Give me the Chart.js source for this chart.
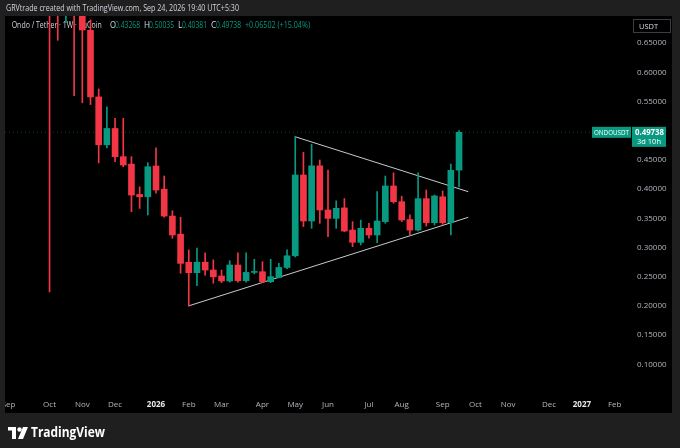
<!DOCTYPE html>
<html><head><meta charset="utf-8">
<script src="https://cdn.jsdelivr.net/npm/chart.js@4.4.1/dist/chart.umd.min.js"></script>
<style>html,body{margin:0;padding:0;background:#1f1f1f;}canvas{display:block;}</style>
</head><body>
<canvas id="c" width="680" height="448"></canvas>
<script>
// ---- data (weekly candles, week index 0 = first week of Jan 2026) ----
const weeks  = [-13,-12,-11,-10,-9,-8,-7,-6,-5,-4,-3,-2,-1,0,1,2,3,4,5,6,7,8,9,10,11,12,13,14,15,16,17,18,19,20,21,22,23,24,25,26,27,28,29,30,31,32,33,34,35,36,37];
const opens  = [0.90,0.85,0.74,0.80,0.72,0.672,0.558,0.476,0.504,0.4557,0.443,0.391,0.387,0.4397,0.40,0.354,0.323,0.2748,0.257,0.275,0.2616,0.2514,0.2428,0.2702,0.2433,0.2575,0.2587,0.2416,0.249,0.266,0.286,0.4243,0.3455,0.440,0.3644,0.350,0.368,0.330,0.309,0.333,0.3216,0.3445,0.4055,0.3786,0.348,0.330,0.3838,0.3427,0.387,0.3427,0.43268];
const highs  = [0.95,0.90,0.88,0.86,0.75,0.69,0.5716,0.541,0.5214,0.5214,0.4557,0.404,0.4454,0.471,0.4226,0.363,0.352,0.296,0.299,0.291,0.279,0.2616,0.2776,0.291,0.291,0.28,0.276,0.28,0.273,0.296,0.49,0.463,0.477,0.450,0.4329,0.380,0.384,0.3445,0.347,0.3416,0.396,0.4226,0.428,0.388,0.356,0.428,0.3986,0.390,0.397,0.443,0.50035];
const lows   = [0.224,0.655,0.685,0.56,0.548,0.545,0.445,0.4705,0.447,0.4385,0.3615,0.367,0.3558,0.393,0.352,0.316,0.256,0.200,0.235,0.253,0.239,0.240,0.241,0.241,0.241,0.255,0.240,0.24,0.248,0.264,0.284,0.336,0.333,0.3416,0.3187,0.333,0.327,0.3016,0.3045,0.316,0.3084,0.3416,0.376,0.3445,0.3216,0.3284,0.337,0.3387,0.340,0.3216,0.40381];
const closes = [0.85,0.78,0.80,0.72,0.6726,0.558,0.476,0.504,0.4557,0.4414,0.390,0.387,0.4385,0.3986,0.354,0.3216,0.273,0.257,0.275,0.2616,0.250,0.2428,0.2702,0.2433,0.2575,0.2587,0.2416,0.2502,0.266,0.286,0.4243,0.3455,0.440,0.3644,0.350,0.3673,0.3284,0.309,0.333,0.3216,0.3455,0.4055,0.3786,0.3473,0.330,0.3838,0.3427,0.3884,0.3427,0.43236,0.49738];

// month tick labels (week index of first weekly bar in each month)
const monthTickWeeks  = [-18,-13,-9,-5,0,4,8,13,17,21,26,30,35,39,43,48,52,56];
const monthTickLabels = ['Sep','Oct','Nov','Dec','2026','Feb','Mar','Apr','May','Jun','Jul','Aug','Sep','Oct','Nov','Dec','2027','Feb'];
const priceTicks = [0.10,0.15,0.20,0.25,0.30,0.35,0.40,0.45,0.50,0.55,0.60,0.65];

// triangle trendlines (week index, price)
const upperTrendW = [16.97, 38.13];
const upperTrendP = [0.4899, 0.3957];
const lowerTrendW = [3.94, 38.13];
const lowerTrendP = [0.200, 0.3519];

const symbolText = 'Ondo / Tether · 1W · KuCoin';
const tickerText = 'ONDOUSDT';
const countdownText = '3d 10h';
const headerText = 'GRVtrade created with TradingView.com, Sep 24, 2026 19:40 UTC+5:30';

// ---- styling ----
const UP = '#089981', DOWN = '#f23645';
const FONT = "'Open Sans', 'DejaVu Sans', sans-serif";
const X_MIN = -18.44, X_MAX = 58.12, Y_MIN = 0.0476, Y_MAX = 0.69658;
const PANEL = {l:5, t:16, r:672, b:413};

const candleColors = weeks.map((w,i) => closes[i] >= opens[i] ? UP : DOWN);
const bodyData = weeks.map((w,i) => ({x:w, y:[opens[i], closes[i]]}));
const wickData = weeks.map((w,i) => ({x:w, y:[lows[i], highs[i]]}));
const n = weeks.length;
const lastClose = closes[n-1], prevClose = closes[n-2];

function isYearTick(c){
  if (!c || !c.tick) return false;
  const i = monthTickWeeks.indexOf(c.tick.value);
  return i >= 0 && /^\d{4}$/.test(monthTickLabels[i]);
}

const framePlugin = {
  id:'frame',
  beforeDraw(chart){
    const ctx = chart.ctx;
    ctx.save();
    ctx.fillStyle = '#1f1f1f';
    ctx.fillRect(0,0,chart.width,chart.height);
    ctx.fillStyle = '#000000';
    ctx.fillRect(PANEL.l, PANEL.t, PANEL.r-PANEL.l, PANEL.b-PANEL.t);
    ctx.restore();
  },
  beforeDatasetsDraw(chart){
    const ctx = chart.ctx;
    ctx.save();
    ctx.font = '8.5px ' + FONT;
    ctx.textBaseline = 'middle';
    const y = 26;
    const fmt = v => v.toFixed(5);
    const diff = lastClose - prevClose;
    const pct = diff / prevClose * 100;
    const parts = [
      [symbolText, 11.7, '#d1d4dc', 90],
      ['O', 110, '#d1d4dc', 6], [fmt(opens[n-1]), 115, UP, 25],
      ['H', 144, '#d1d4dc', 6], [fmt(highs[n-1]), 149, UP, 25],
      ['L', 178, '#d1d4dc', 5], [fmt(lows[n-1]), 182, UP, 25],
      ['C', 211, '#d1d4dc', 6], [fmt(lastClose), 216, UP, 25],
      [(diff>=0?'+':'') + diff.toFixed(5) + ' (' + (pct>=0?'+':'') + pct.toFixed(2) + '%)', 245, UP, 65]
    ];
    parts.forEach(p => { ctx.fillStyle = p[2]; ctx.fillText(p[0], p[1], y, p[3]); });
    ctx.restore();
  },
  afterDraw(chart){
    const ctx = chart.ctx;
    const ys = chart.scales.y;
    ctx.save();
    ctx.fillStyle = '#1f1f1f';
    ctx.fillRect(0, PANEL.t, PANEL.l, PANEL.b-PANEL.t);
    ctx.fillRect(PANEL.r, PANEL.t, chart.width-PANEL.r, PANEL.b-PANEL.t);
    ctx.fillStyle = '#d1d4dc';
    ctx.font = '8.5px ' + FONT;
    ctx.textBaseline = 'middle';
    ctx.fillText(headerText, 6, 9, 233);
    ctx.fillStyle = '#000';
    ctx.strokeStyle = '#3a3d45';
    ctx.lineWidth = 1;
    ctx.fillRect(633.5, 19.5, 37, 13);
    ctx.strokeRect(633.5, 19.5, 37, 13);
    ctx.fillStyle = '#d1d4dc';
    ctx.font = '7.5px ' + FONT;
    ctx.fillText('USDT', 639, 26.5, 20);
    const py = ys.getPixelForValue(lastClose);
    ctx.fillStyle = UP;
    ctx.fillRect(632, py-5.5, 34, 20);
    ctx.fillRect(592, py-5.5, 39, 11);
    ctx.fillStyle = '#ffffff';
    ctx.font = 'bold 8px ' + FONT;
    ctx.fillText(lastClose.toFixed(5), 635, py, 29);
    ctx.font = '7.5px ' + FONT;
    ctx.fillText(countdownText, 637, py+9.5, 24);
    ctx.fillText(tickerText, 594, py+0.5, 35);
    ctx.fillStyle = '#ffffff';
    const ly = 433;
    ctx.fillRect(8, ly-6, 8, 3.5);
    ctx.fillRect(12, ly-6, 4, 12);
    ctx.beginPath(); ctx.arc(19.5, ly-3.5, 2.2, 0, Math.PI*2); ctx.fill();
    ctx.beginPath();
    ctx.moveTo(23, ly-6); ctx.lineTo(28, ly-6); ctx.lineTo(23, ly+6); ctx.lineTo(18, ly+6);
    ctx.closePath(); ctx.fill();
    ctx.font = 'bold 15px ' + FONT;
    ctx.fillText('TradingView', 31, ly, 74);
    ctx.restore();
  }
};

new Chart(document.getElementById('c'), {
  type: 'bar',
  data: {
    datasets: [
      { label:'body', data: bodyData, backgroundColor: candleColors, borderWidth:0,
        barThickness: 6, minBarLength: 1, grouped:false, order:0 },
      { label:'wick', data: wickData, backgroundColor: candleColors, borderWidth:0,
        barThickness: 1, grouped:false, order:1 },
      { type:'line', label:'upper', data: upperTrendW.map((w,i)=>({x:w,y:upperTrendP[i]})),
        borderColor:'#c8cad0', borderWidth:1, pointRadius:0, order:2 },
      { type:'line', label:'lower', data: lowerTrendW.map((w,i)=>({x:w,y:lowerTrendP[i]})),
        borderColor:'#c8cad0', borderWidth:1, pointRadius:0, order:2 },
      { type:'line', label:'price', data: [{x:X_MIN,y:lastClose},{x:X_MAX,y:lastClose}],
        borderColor:'rgba(8,153,129,0.45)', borderWidth:1, borderDash:[1,3], pointRadius:0, order:3 }
    ]
  },
  options: {
    responsive:false, animation:false,
    layout:{ padding:{ left:5, right:8, top:16, bottom:35 } },
    plugins:{ legend:{display:false}, tooltip:{enabled:false} },
    scales:{
      x:{ type:'linear', min:X_MIN, max:X_MAX, offset:false,
          grid:{display:false, drawTicks:false}, border:{display:false},
          afterBuildTicks(s){ s.ticks = monthTickWeeks.map(v=>({value:v})); },
          afterFit(s){ s.height = 18; s.paddingLeft = 0; s.paddingRight = 0; },
          ticks:{ autoSkip:false, maxRotation:0, padding:5,
            callback(v){ const i = monthTickWeeks.indexOf(v); return i>=0 ? monthTickLabels[i] : ''; },
            color(c){ return isYearTick(c) ? '#e8e9ec' : '#b2b5be'; },
            font(c){ return {family:FONT, size:8, weight: isYearTick(c) ? 'bold' : 'normal'}; }
          } },
      y:{ type:'linear', position:'right', min:Y_MIN, max:Y_MAX,
          grid:{display:false, drawTicks:false}, border:{display:false},
          afterBuildTicks(s){ s.ticks = priceTicks.map(v=>({value:v})); },
          afterFit(s){ s.width = 40; s.paddingTop = 0; s.paddingBottom = 0; },
          ticks:{ padding:5, color:'#b2b5be', font:{family:FONT, size:8},
            callback(v){ return Number(v).toFixed(5); } } }
    }
  },
  plugins:[framePlugin]
});
</script>
</body></html>
